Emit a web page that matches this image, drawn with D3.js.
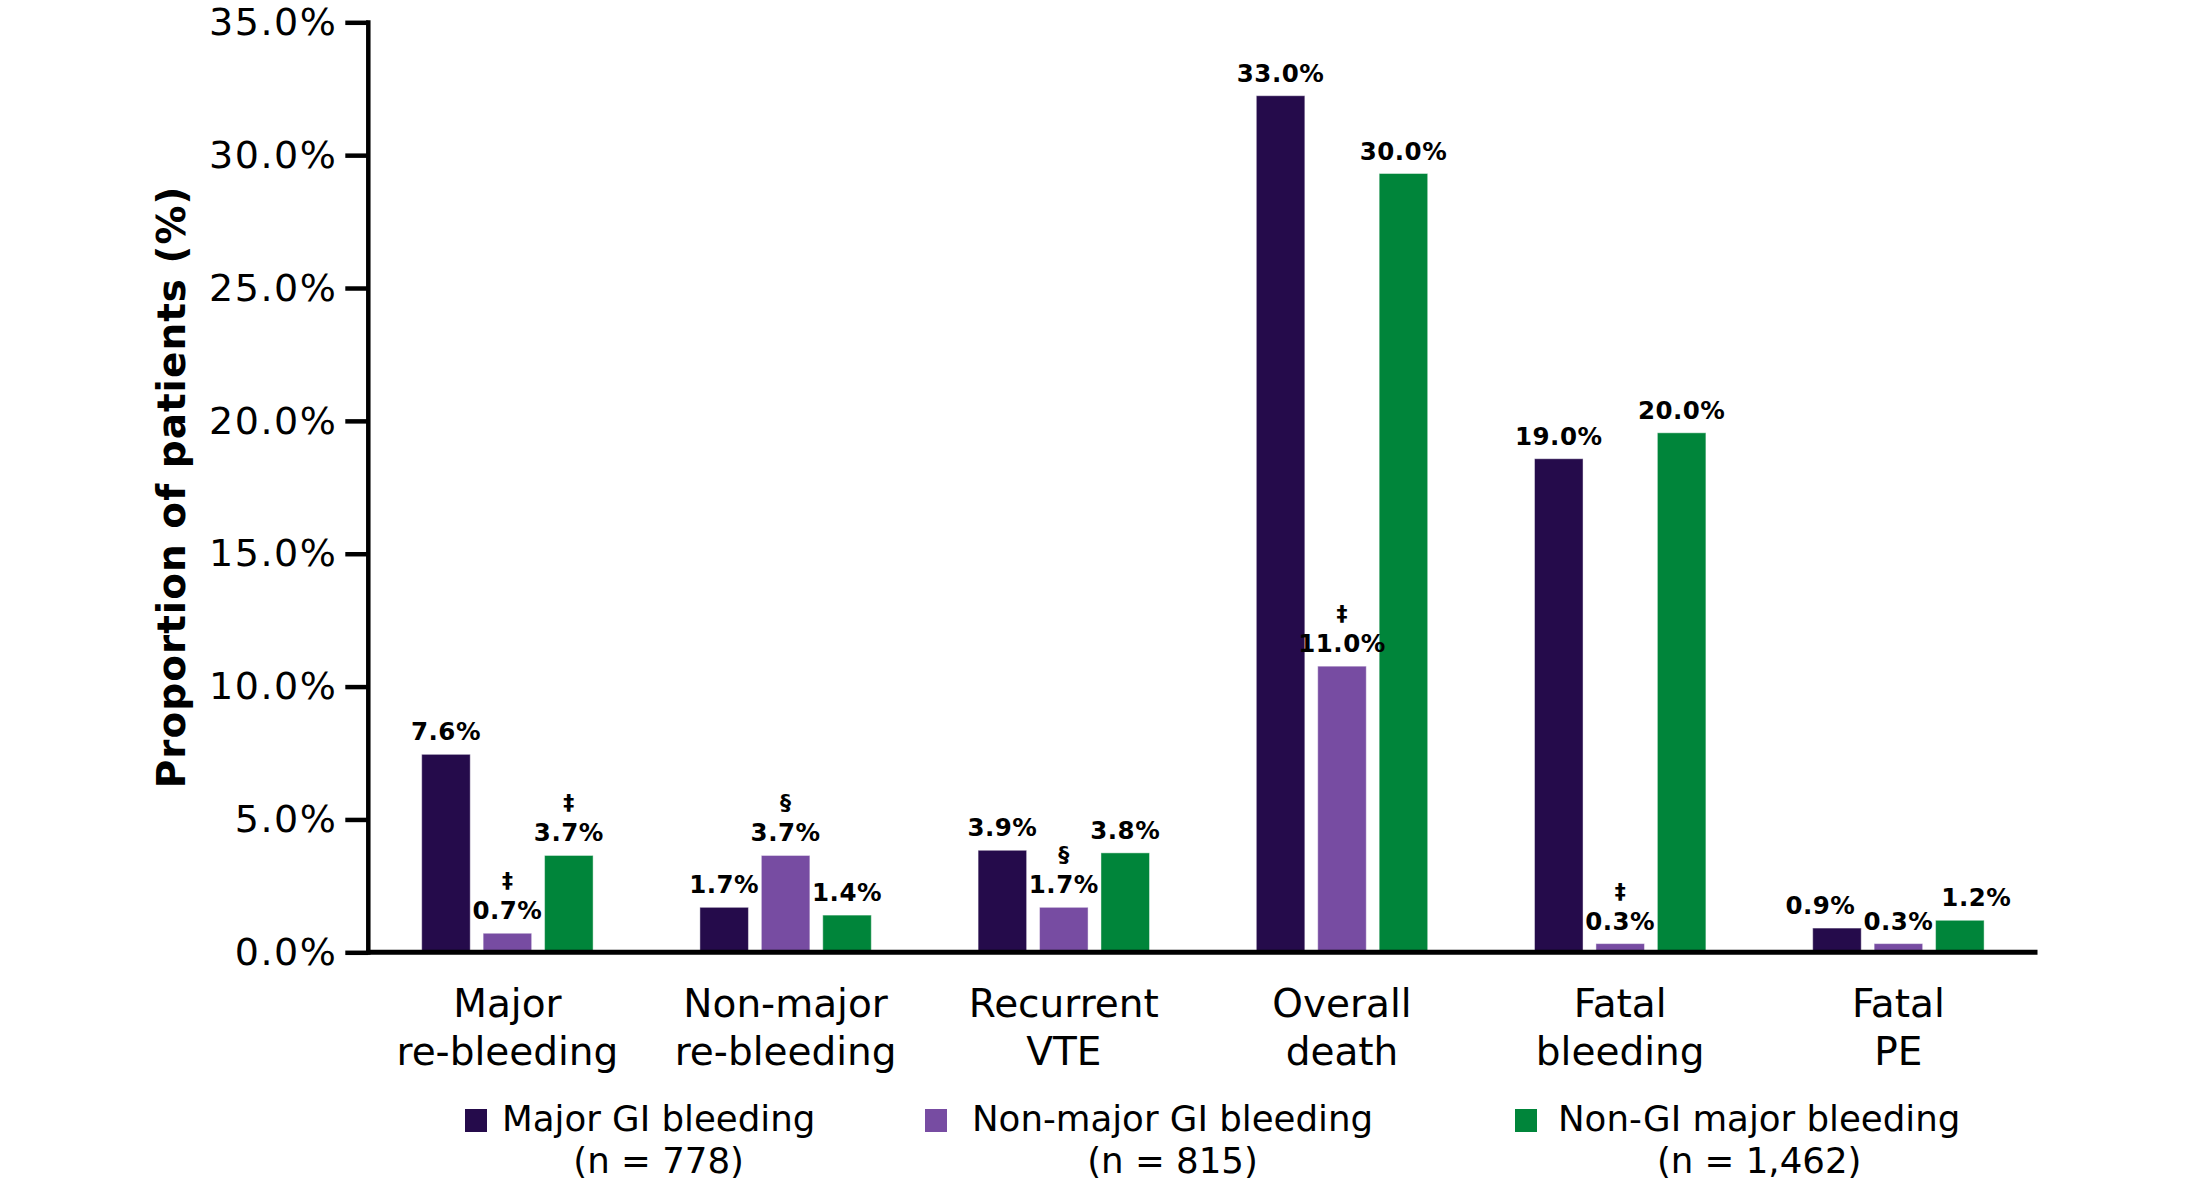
<!DOCTYPE html>
<html>
<head>
<meta charset="utf-8">
<script src="https://cdn.jsdelivr.net/npm/d3@7"></script>
<style>
  html, body { margin: 0; padding: 0; background: #fff; }
  svg { display: block; }
  text { font-family: "DejaVu Sans", Verdana, sans-serif; fill: #000; }
</style>
</head>
<body>
<svg id="chart" width="2188" height="1186"></svg>
<script>
// ---------------- data ----------------
const categories = [
  ["Major", "re-bleeding"],
  ["Non-major", "re-bleeding"],
  ["Recurrent", "VTE"],
  ["Overall", "death"],
  ["Fatal", "bleeding"],
  ["Fatal", "PE"]
];
const seriesNames = ["Major GI bleeding", "Non-major GI bleeding", "Non-GI major bleeding"];
const seriesCounts = ["(n = 778)", "(n = 815)", "(n = 1,462)"];
const majorGI     = [7.6, 1.7, 3.9, 33.0, 19.0, 0.9];
const nonMajorGI  = [0.7, 3.7, 1.7, 11.0, 0.3, 0.3];
const nonGIMajor  = [3.7, 1.4, 3.8, 30.0, 20.0, 1.2];
const markersMajorGI    = ["", "", "", "", "", ""];
const markersNonMajorGI = ["\u2021", "\u00A7", "\u00A7", "\u2021", "\u2021", ""];
const markersNonGIMajor = ["\u2021", "", "", "", "", ""];
const yTicks = [0, 5, 10, 15, 20, 25, 30, 35];
const colors = ["#250B4B", "#774CA2", "#00853A"];

// ---------------- layout ----------------
const svg = d3.select("#chart");
const xLeft = 368.3, xRight = 2037.5;
const seriesValues = [majorGI, nonMajorGI, nonGIMajor];
const seriesMarkers = [markersMajorGI, markersNonMajorGI, markersNonGIMajor];

const x0 = d3.scaleBand().domain(d3.range(categories.length)).range([xLeft, xRight]).padding(0);
const half = x0.bandwidth() / 2;
const x1 = d3.scaleBand().domain(d3.range(seriesNames.length))
  .range([half - 85.7, half + 85.7]).paddingInner(0.21).paddingOuter(0);

// axis scale (ticks) and bar scale (bars are drawn slightly compressed in the original)
const y = d3.scaleLinear().domain([0, 35]).range([952.3, 22.3]);
const yBar = d3.scaleLinear().domain([0, 35]).range([951.4, 951.4 - 25.93 * 35]);

const rowsFor = i => seriesValues.map((vals, s) => ({ s, v: vals[i], m: seriesMarkers[s][i] }));

// bars
const groups = svg.append("g").selectAll("g")
  .data(categories.map((c, i) => i))
  .join("g")
  .attr("transform", i => `translate(${x0(i)},0)`);

groups.selectAll("rect")
  .data(rowsFor)
  .join("rect")
  .attr("x", d => x1(d.s))
  .attr("width", x1.bandwidth())
  .attr("y", d => yBar(d.v))
  .attr("height", d => 952 - yBar(d.v))
  .attr("fill", d => colors[d.s])
  .attr("stroke", "rgba(255,255,255,0.45)")
  .attr("stroke-width", 1);

// value labels
const LABEL_GAP = 14;
groups.each(function (i) {
  const g = d3.select(this);
  const rows = rowsFor(i);
  const labels = g.selectAll("text.val")
    .data(rows)
    .join("text")
    .attr("class", "val")
    .attr("x", d => x1(d.s) + x1.bandwidth() / 2)
    .attr("y", d => yBar(d.v) - LABEL_GAP)
    .attr("text-anchor", "middle")
    .style("font-size", "24.5px")
    .style("font-weight", "bold")
    .style("letter-spacing", "0.5px")
    .text(d => d.v.toFixed(1) + "%");
  // spread neighbouring labels that sit at similar heights so they do not collide
  const nodes = labels.nodes();
  const info = nodes.map((n, k) => ({
    cx: x1(rows[k].s) + x1.bandwidth() / 2,
    y: yBar(rows[k].v) - LABEL_GAP,
    w: n.getComputedTextLength()
  }));
  for (let iter = 0; iter < 20; iter++) {
    for (let k = 0; k < info.length - 1; k++) {
      const a = info[k], b = info[k + 1];
      if (Math.abs(a.y - b.y) < 26) {
        const need = (a.w + b.w) / 2 + 8;
        const have = b.cx - a.cx;
        if (have < need) {
          const d = (need - have) / 2;
          a.cx -= d; b.cx += d;
        }
      }
    }
  }
  nodes.forEach((n, k) => d3.select(n).attr("x", info[k].cx));
});

// significance markers
groups.selectAll("text.mark")
  .data(i => rowsFor(i).filter(d => d.m))
  .join("text")
  .attr("class", "mark")
  .attr("x", d => x1(d.s) + x1.bandwidth() / 2)
  .attr("y", d => yBar(d.v) - LABEL_GAP - 31)
  .attr("text-anchor", "middle")
  .style("font-size", "22px")
  .style("font-weight", "bold")
  .text(d => d.m);

// y axis
const yAxis = d3.axisLeft(y).tickValues(yTicks).tickSize(23).tickPadding(8)
  .tickFormat(d => d.toFixed(1) + "%");
const gy = svg.append("g").attr("transform", `translate(${xLeft},0)`).call(yAxis);
gy.select(".domain").remove();
gy.selectAll(".tick line").attr("stroke", "#000").attr("stroke-width", 4.5);
gy.selectAll(".tick text")
  .style("font-family", "'DejaVu Sans', Verdana, sans-serif")
  .style("font-size", "38px")
  .style("letter-spacing", "1.5px")
  .attr("fill", "#000");
svg.append("line")
  .attr("x1", xLeft).attr("x2", xLeft)
  .attr("y1", y(35) - 2).attr("y2", y(0) + 2.5)
  .attr("stroke", "#000").attr("stroke-width", 4.5);

// x axis line
svg.append("line")
  .attr("x1", xLeft - 2).attr("x2", xRight)
  .attr("y1", y(0)).attr("y2", y(0))
  .attr("stroke", "#000").attr("stroke-width", 5);

// category labels
const catText = svg.append("g").selectAll("text")
  .data(categories)
  .join("text")
  .attr("text-anchor", "middle")
  .style("font-size", "39px");
catText.each(function (c, i) {
  const t = d3.select(this);
  const cx = x0(i) + half;
  t.append("tspan").attr("x", cx).attr("y", 1017).text(c[0]);
  t.append("tspan").attr("x", cx).attr("y", 1065).text(c[1]);
});

// y axis title
svg.append("text")
  .attr("transform", "translate(185,487) rotate(-90)")
  .attr("text-anchor", "middle")
  .style("font-size", "39px")
  .style("font-weight", "bold")
  .style("letter-spacing", "1px")
  .text("Proportion of patients (%)");

// legend
const legendX = [465, 925, 1515];
const legendTextX = [502, 972, 1558];
seriesNames.forEach((name, s) => {
  const g = svg.append("g");
  g.append("rect")
    .attr("x", legendX[s]).attr("y", 1109)
    .attr("width", 22).attr("height", 23)
    .attr("fill", colors[s]);
  const t1 = g.append("text")
    .attr("x", legendTextX[s]).attr("y", 1131)
    .style("font-size", "35.6px")
    .text(name);
  const w = t1.node().getComputedTextLength();
  g.append("text")
    .attr("x", legendTextX[s] + w / 2).attr("y", 1173)
    .attr("text-anchor", "middle")
    .style("font-size", "35.6px")
    .text(seriesCounts[s]);
});
</script>
</body>
</html>
